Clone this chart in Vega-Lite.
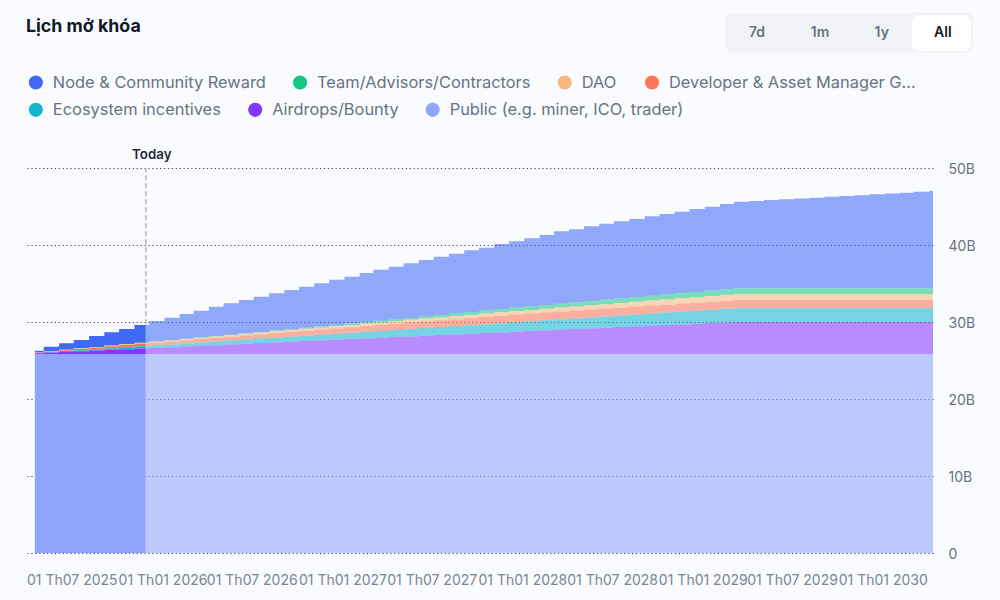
{
  "$schema": "https://vega.github.io/schema/vega-lite/v6.json",
  "width": 908,
  "height": 385,
  "autosize": "none",
  "padding": {"left": 25, "top": 168, "right": 67, "bottom": 47},
  "background": "#F9FBFF",
  "title": {
    "text": "Lịch mở khóa",
    "anchor": "start",
    "frame": "group",
    "font": "Inter",
    "fontSize": 17.8,
    "fontWeight": 700,
    "color": "#111827",
    "offset": 0,
    "dx": 1,
    "dy": 23
  },
  "config": {
    "view": {"stroke": null},
    "text": {"font": "Inter"}
  },
  "datasets": {
    "unlocks": [
      {"date":"2025-04-17","public":25.85,"airdrop":0.10,"eco":0.02,"dev":0.04,"dao":0.02,"team":0.01,"node":0.23},
      {"date":"2025-05-05","public":25.85,"airdrop":0.19,"eco":0.06,"dev":0.08,"dao":0.03,"team":0.01,"node":0.57},
      {"date":"2025-06-05","public":25.85,"airdrop":0.27,"eco":0.10,"dev":0.12,"dao":0.05,"team":0.01,"node":0.83},
      {"date":"2025-07-05","public":25.85,"airdrop":0.36,"eco":0.13,"dev":0.16,"dao":0.06,"team":0.02,"node":1.08},
      {"date":"2025-08-05","public":25.85,"airdrop":0.45,"eco":0.17,"dev":0.20,"dao":0.07,"team":0.02,"node":1.42},
      {"date":"2025-09-05","public":25.85,"airdrop":0.54,"eco":0.21,"dev":0.24,"dao":0.09,"team":0.03,"node":1.70},
      {"date":"2025-10-05","public":25.85,"airdrop":0.62,"eco":0.25,"dev":0.28,"dao":0.10,"team":0.03,"node":1.96},
      {"date":"2025-11-05","public":25.85,"airdrop":0.71,"eco":0.29,"dev":0.32,"dao":0.11,"team":0.04,"node":2.29},
      {"date":"2025-11-28","public":25.85,"airdrop":0.71,"eco":0.29,"dev":0.32,"dao":0.11,"team":0.04,"node":2.29},
      {"date":"2025-12-05","public":25.85,"airdrop":0.80,"eco":0.32,"dev":0.35,"dao":0.13,"team":0.04,"node":2.64},
      {"date":"2026-01-05","public":25.85,"airdrop":0.88,"eco":0.36,"dev":0.38,"dao":0.14,"team":0.05,"node":2.90},
      {"date":"2026-02-05","public":25.85,"airdrop":0.97,"eco":0.40,"dev":0.41,"dao":0.15,"team":0.05,"node":3.21},
      {"date":"2026-03-05","public":25.85,"airdrop":1.06,"eco":0.44,"dev":0.44,"dao":0.17,"team":0.06,"node":3.45},
      {"date":"2026-04-05","public":25.85,"airdrop":1.14,"eco":0.48,"dev":0.47,"dao":0.18,"team":0.06,"node":3.81},
      {"date":"2026-05-05","public":25.85,"airdrop":1.23,"eco":0.51,"dev":0.50,"dao":0.20,"team":0.07,"node":4.07},
      {"date":"2026-06-05","public":25.85,"airdrop":1.32,"eco":0.55,"dev":0.53,"dao":0.21,"team":0.07,"node":4.33},
      {"date":"2026-07-05","public":25.85,"airdrop":1.41,"eco":0.59,"dev":0.56,"dao":0.22,"team":0.08,"node":4.58},
      {"date":"2026-08-05","public":25.85,"airdrop":1.49,"eco":0.63,"dev":0.59,"dao":0.24,"team":0.08,"node":4.85},
      {"date":"2026-09-05","public":25.85,"airdrop":1.58,"eco":0.67,"dev":0.62,"dao":0.25,"team":0.10,"node":5.09},
      {"date":"2026-10-05","public":25.85,"airdrop":1.67,"eco":0.70,"dev":0.65,"dao":0.26,"team":0.12,"node":5.33},
      {"date":"2026-11-05","public":25.85,"airdrop":1.75,"eco":0.74,"dev":0.67,"dao":0.28,"team":0.14,"node":5.60},
      {"date":"2026-12-05","public":25.85,"airdrop":1.84,"eco":0.78,"dev":0.70,"dao":0.29,"team":0.16,"node":5.87},
      {"date":"2027-01-05","public":25.85,"airdrop":1.93,"eco":0.82,"dev":0.72,"dao":0.30,"team":0.18,"node":6.08},
      {"date":"2027-02-05","public":25.85,"airdrop":2.01,"eco":0.86,"dev":0.75,"dao":0.32,"team":0.20,"node":6.37},
      {"date":"2027-03-05","public":25.85,"airdrop":2.10,"eco":0.89,"dev":0.77,"dao":0.33,"team":0.21,"node":6.64},
      {"date":"2027-04-05","public":25.85,"airdrop":2.19,"eco":0.93,"dev":0.80,"dao":0.34,"team":0.23,"node":6.84},
      {"date":"2027-05-05","public":25.85,"airdrop":2.28,"eco":0.97,"dev":0.82,"dao":0.36,"team":0.25,"node":7.09},
      {"date":"2027-06-05","public":25.85,"airdrop":2.36,"eco":1.01,"dev":0.85,"dao":0.37,"team":0.28,"node":7.33},
      {"date":"2027-07-05","public":25.85,"airdrop":2.45,"eco":1.05,"dev":0.87,"dao":0.38,"team":0.31,"node":7.57},
      {"date":"2027-08-05","public":25.85,"airdrop":2.54,"eco":1.08,"dev":0.90,"dao":0.40,"team":0.34,"node":7.76},
      {"date":"2027-09-05","public":25.85,"airdrop":2.62,"eco":1.12,"dev":0.92,"dao":0.41,"team":0.37,"node":8.02},
      {"date":"2027-10-05","public":25.85,"airdrop":2.71,"eco":1.16,"dev":0.95,"dao":0.42,"team":0.39,"node":8.17},
      {"date":"2027-11-05","public":25.85,"airdrop":2.80,"eco":1.20,"dev":0.97,"dao":0.44,"team":0.42,"node":8.45},
      {"date":"2027-12-05","public":25.85,"airdrop":2.88,"eco":1.24,"dev":1.00,"dao":0.45,"team":0.45,"node":8.61},
      {"date":"2028-01-05","public":25.85,"airdrop":2.97,"eco":1.27,"dev":1.00,"dao":0.47,"team":0.47,"node":8.84},
      {"date":"2028-02-05","public":25.85,"airdrop":3.06,"eco":1.31,"dev":1.01,"dao":0.49,"team":0.49,"node":9.09},
      {"date":"2028-03-05","public":25.85,"airdrop":3.15,"eco":1.35,"dev":1.01,"dao":0.51,"team":0.51,"node":9.40},
      {"date":"2028-04-05","public":25.85,"airdrop":3.23,"eco":1.39,"dev":1.01,"dao":0.54,"team":0.53,"node":9.49},
      {"date":"2028-05-05","public":25.85,"airdrop":3.32,"eco":1.43,"dev":1.02,"dao":0.56,"team":0.55,"node":9.70},
      {"date":"2028-06-05","public":25.85,"airdrop":3.41,"eco":1.46,"dev":1.02,"dao":0.58,"team":0.57,"node":9.88},
      {"date":"2028-07-05","public":25.85,"airdrop":3.49,"eco":1.50,"dev":1.02,"dao":0.60,"team":0.59,"node":10.03},
      {"date":"2028-08-05","public":25.85,"airdrop":3.58,"eco":1.54,"dev":1.03,"dao":0.63,"team":0.61,"node":10.14},
      {"date":"2028-09-05","public":25.85,"airdrop":3.67,"eco":1.58,"dev":1.03,"dao":0.65,"team":0.62,"node":10.33},
      {"date":"2028-10-05","public":25.85,"airdrop":3.75,"eco":1.62,"dev":1.03,"dao":0.67,"team":0.64,"node":10.47},
      {"date":"2028-11-05","public":25.85,"airdrop":3.84,"eco":1.65,"dev":1.04,"dao":0.69,"team":0.66,"node":10.59},
      {"date":"2028-12-05","public":25.85,"airdrop":3.93,"eco":1.69,"dev":1.04,"dao":0.71,"team":0.68,"node":10.78},
      {"date":"2029-01-05","public":25.85,"airdrop":4.02,"eco":1.73,"dev":1.04,"dao":0.74,"team":0.70,"node":10.89},
      {"date":"2029-02-05","public":25.85,"airdrop":4.10,"eco":1.77,"dev":1.05,"dao":0.76,"team":0.72,"node":11.07},
      {"date":"2029-03-05","public":25.85,"airdrop":4.15,"eco":1.80,"dev":1.05,"dao":0.78,"team":0.74,"node":11.25},
      {"date":"2029-04-05","public":25.85,"airdrop":4.15,"eco":1.80,"dev":1.05,"dao":0.78,"team":0.74,"node":11.35},
      {"date":"2029-05-05","public":25.85,"airdrop":4.15,"eco":1.80,"dev":1.05,"dao":0.78,"team":0.74,"node":11.46},
      {"date":"2029-06-05","public":25.85,"airdrop":4.15,"eco":1.80,"dev":1.05,"dao":0.78,"team":0.74,"node":11.57},
      {"date":"2029-07-05","public":25.85,"airdrop":4.15,"eco":1.80,"dev":1.05,"dao":0.78,"team":0.74,"node":11.67},
      {"date":"2029-08-05","public":25.85,"airdrop":4.15,"eco":1.80,"dev":1.05,"dao":0.78,"team":0.74,"node":11.78},
      {"date":"2029-09-05","public":25.85,"airdrop":4.15,"eco":1.80,"dev":1.05,"dao":0.78,"team":0.74,"node":11.89},
      {"date":"2029-10-05","public":25.85,"airdrop":4.15,"eco":1.80,"dev":1.05,"dao":0.78,"team":0.74,"node":11.99},
      {"date":"2029-11-05","public":25.85,"airdrop":4.15,"eco":1.80,"dev":1.05,"dao":0.78,"team":0.74,"node":12.10},
      {"date":"2029-12-05","public":25.85,"airdrop":4.15,"eco":1.80,"dev":1.05,"dao":0.78,"team":0.74,"node":12.21},
      {"date":"2030-01-05","public":25.85,"airdrop":4.15,"eco":1.80,"dev":1.05,"dao":0.78,"team":0.74,"node":12.31},
      {"date":"2030-02-05","public":25.85,"airdrop":4.15,"eco":1.80,"dev":1.05,"dao":0.78,"team":0.74,"node":12.42},
      {"date":"2030-03-05","public":25.85,"airdrop":4.15,"eco":1.80,"dev":1.05,"dao":0.78,"team":0.74,"node":12.53},
      {"date":"2030-04-05","public":25.85,"airdrop":4.15,"eco":1.80,"dev":1.05,"dao":0.78,"team":0.74,"node":12.63},
      {"date":"2030-04-13","public":25.85,"airdrop":4.15,"eco":1.80,"dev":1.05,"dao":0.78,"team":0.74,"node":12.63}
    ],
    "today": [{"date": "2025-11-28", "from": 29.7, "to": 50, "label": "Today"}],
    "ranges": [
      {"label": "7d", "date": "2029-04-21", "level": 67.55},
      {"label": "1m", "date": "2029-08-27", "level": 67.55},
      {"label": "1y", "date": "2029-12-30", "level": 67.55},
      {"label": "All", "date": "2030-05-03", "level": 67.55}
    ],
    "keys": [
      {"series": "node", "label": "Node & Community Reward", "date": "2025-04-19", "level": 61.1},
      {"series": "team", "label": "Team/Advisors/Contractors", "date": "2026-10-07", "level": 61.1},
      {"series": "dao", "label": "DAO", "date": "2028-03-27", "level": 61.1},
      {"series": "dev", "label": "Developer & Asset Manager G...", "date": "2028-09-20", "level": 61.1},
      {"series": "eco", "label": "Ecosystem incentives", "date": "2025-04-19", "level": 57.55},
      {"series": "airdrop", "label": "Airdrops/Bounty", "date": "2026-07-08", "level": 57.55},
      {"series": "public", "label": "Public (e.g. miner, ICO, trader)", "date": "2027-07-03", "level": 57.55}
    ]
  },
  "data": {"name": "unlocks"},
  "encoding": {
    "x": {
      "field": "date",
      "type": "temporal",
      "title": null,
      "scale": {"type": "utc", "domain": ["2025-03-28", "2030-04-13"]},
      "axis": {
        "values": ["2025-07-01", "2026-01-01", "2026-07-01", "2027-01-01", "2027-07-01", "2028-01-01", "2028-07-01", "2029-01-01", "2029-07-01", "2030-01-01"],
        "format": "01 Th%m %Y",
        "labelFont": "Inter",
        "labelFontSize": 14,
        "labelColor": "#7C8493",
        "labelPadding": 20,
        "labelOverlap": false,
        "labelBound": false,
        "domain": false,
        "ticks": false,
        "grid": false
      }
    }
  },
  "layer": [
    {
      "data": {"name": "today"},
      "mark": {"type": "rule", "color": "#AEB2BD", "strokeWidth": 1.6, "strokeDash": [5, 3]},
      "encoding": {
        "y": {
          "field": "from",
          "type": "quantitative",
          "title": null,
          "scale": {"domain": [0, 50], "nice": false},
          "axis": {
            "values": [0, 10, 20, 30, 40, 50],
            "labelExpr": "datum.value === 0 ? '0' : datum.value + 'B'",
            "orient": "right",
            "labelFont": "Inter",
            "labelFontSize": 14,
            "labelColor": "#6B7280",
            "labelPadding": 15,
            "labelOffset": 1.5,
            "domain": false,
            "ticks": false,
            "grid": true,
            "gridColor": "#3F444E",
            "gridDash": [1.2, 2.7],
            "gridWidth": 1.2
          }
        },
        "y2": {"field": "to"}
      }
    },
    {
      "transform": [
        {"fold": ["node", "team", "dao", "dev", "eco", "airdrop", "public"], "as": ["series", "value"]},
        {"calculate": "indexof(['public', 'airdrop', 'eco', 'dev', 'dao', 'team', 'node'], datum.series)", "as": "rank"}
      ],
      "encoding": {
        "y": {"field": "value", "type": "quantitative", "stack": "zero"},
        "order": {"field": "rank", "type": "quantitative"},
        "color": {
          "field": "series",
          "type": "nominal",
          "scale": {
            "domain": ["node", "team", "dao", "dev", "eco", "airdrop", "public"],
            "range": ["#4069F5", "#16C784", "#F6B87E", "#FF7557", "#12B5CE", "#8438FF", "#8FA6FC"]
          },
          "legend": null
        }
      },
      "layer": [
        {
          "transform": [{"filter": "time(datum.date) <= utc(2025, 10, 28)"}],
          "mark": {"type": "area", "interpolate": "step-after", "opacity": 1}
        },
        {
          "transform": [{"filter": "time(datum.date) >= utc(2025, 10, 28)"}],
          "mark": {"type": "area", "interpolate": "step-after", "opacity": 0.57}
        }
      ]
    },
    {
      "data": {"name": "keys"},
      "mark": {"type": "point", "shape": "circle", "filled": true, "size": 200, "opacity": 1},
      "encoding": {
        "y": {"field": "level", "type": "quantitative"},
        "color": {"field": "series", "type": "nominal", "legend": null}
      }
    },
    {
      "data": {"name": "keys"},
      "mark": {"type": "text", "font": "Inter", "fontSize": 16.4, "color": "#6B7280", "align": "left", "baseline": "middle", "dx": 17},
      "encoding": {
        "y": {"field": "level", "type": "quantitative"},
        "text": {"field": "label"}
      }
    },
    {
      "data": {"name": "today"},
      "mark": {"type": "text", "font": "Inter", "fontSize": 13.3, "fontWeight": 600, "color": "#1F2937", "dx": 6, "dy": -13},
      "encoding": {
        "y": {"field": "to", "type": "quantitative"},
        "text": {"field": "label"}
      }
    },
    {
      "data": {"values": [{"date": "2029-02-15", "end": "2030-07-03", "low": 65.0, "high": 70.17}]},
      "mark": {"type": "rect", "color": "#F0F2F5", "cornerRadius": 8},
      "encoding": {
        "x2": {"field": "end"},
        "y": {"field": "low", "type": "quantitative"},
        "y2": {"field": "high"}
      }
    },
    {
      "data": {"values": [{"date": "2030-03-01", "end": "2030-06-29", "low": 65.19, "high": 69.87}]},
      "mark": {"type": "rect", "color": "#FFFFFF", "cornerRadius": 8},
      "encoding": {
        "x2": {"field": "end"},
        "y": {"field": "low", "type": "quantitative"},
        "y2": {"field": "high"}
      }
    },
    {
      "data": {"name": "ranges"},
      "mark": {"type": "text", "font": "Inter", "fontSize": 14, "fontWeight": 600},
      "encoding": {
        "y": {"field": "level", "type": "quantitative"},
        "text": {"field": "label"},
        "color": {"condition": {"test": "datum.label === 'All'", "value": "#111827"}, "value": "#6B7280"}
      }
    }
  ]
}
